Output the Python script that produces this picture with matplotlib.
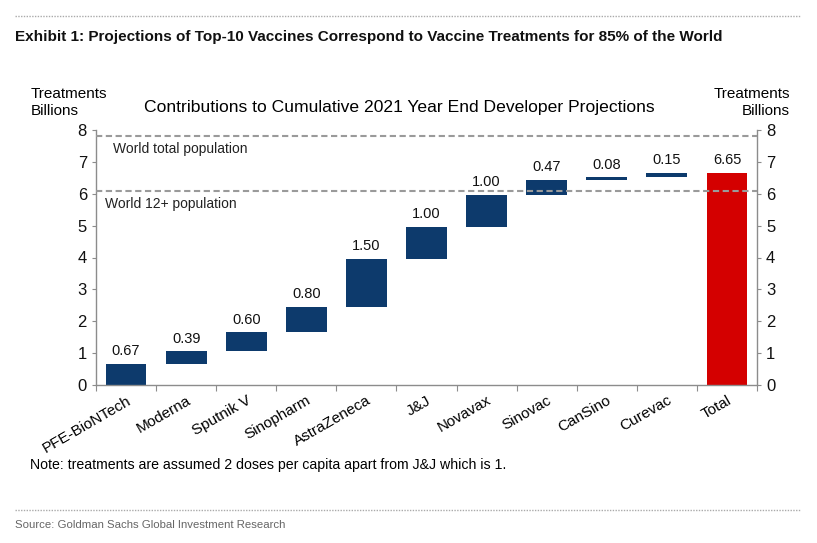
import matplotlib
matplotlib.use("Agg")
import matplotlib.pyplot as plt
import numpy as np

categories = ["PFE-BioNTech", "Moderna", "Sputnik V", "Sinopharm", "AstraZeneca",
              "J&J", "Novavax", "Sinovac", "CanSino", "Curevac", "Total"]
contrib = [0.67, 0.39, 0.60, 0.80, 1.50, 1.00, 1.00, 0.47, 0.08, 0.15]
total = 6.65
labels = ["0.67", "0.39", "0.60", "0.80", "1.50", "1.00", "1.00", "0.47", "0.08", "0.15", "6.65"]
world_total = 7.8
world_12 = 6.08
yticks = [0, 1, 2, 3, 4, 5, 6, 7, 8]

plt.rcParams['font.family'] = ['Liberation Sans', 'DejaVu Sans']

fig = plt.figure(figsize=(8.17, 5.43), dpi=100)
W, H = 817, 543
ax = fig.add_axes([96 / W, 1 - 385 / H, (757 - 96) / W, (385 - 130) / H])

navy = "#0d3a6c"
red = "#d40000"
gray = "#8c8c8c"
dash_gray = "#9a9a9a"

bottoms = np.concatenate([[0], np.cumsum(contrib)[:-1]])
x = np.arange(len(categories))
ax.bar(x[:-1], contrib, bottom=bottoms, width=0.68, color=navy, zorder=2)
ax.bar(x[-1], total, width=0.68, color=red, zorder=2)

tops = list(bottoms + np.array(contrib)) + [total]
for xi, t, lab in zip(x, tops, labels):
    ax.annotate(lab, (xi, t), xytext=(0, 4), textcoords="offset points",
                ha="center", va="bottom", fontsize=10.5, color="#111111")

ax.axhline(world_total, color=dash_gray, ls=(0, (3, 1.7)), lw=1.5, zorder=3)
ax.axhline(world_12, color=dash_gray, ls=(0, (3, 1.7)), lw=1.5, zorder=3)
ax.text(-0.22, world_total - 0.18, "World total population", ha="left", va="top", fontsize=10, color="#222222")
ax.text(-0.35, world_12 - 0.18, "World 12+ population", ha="left", va="top", fontsize=10, color="#222222")

ax.set_xlim(-0.5, len(categories) - 0.5)
ax.set_ylim(0, 8)
ax.set_yticks(yticks)
ax.tick_params(axis='y', which='both', labelsize=12, colors="#111111", length=3, color=gray,
               left=True, right=True, labelleft=True, labelright=True, direction='out')
ax.set_xticks(np.arange(len(categories) + 1) - 0.5, minor=False)
ax.set_xticklabels([])
ax.set_xticks(x, minor=True)
ax.set_xticklabels(categories, minor=True, rotation=30, ha="right", rotation_mode="anchor", fontsize=11)
ax.tick_params(axis='x', which='major', length=4, color=gray, direction='out')
ax.tick_params(axis='x', which='minor', length=0, pad=6)
for s in ["left", "right", "bottom"]:
    ax.spines[s].set_color(gray)
    ax.spines[s].set_linewidth(1.0)
ax.spines["top"].set_visible(False)

# header / footer
fig.add_artist(plt.Line2D([15 / W, 800 / W], [1 - 16 / H, 1 - 16 / H], color="#aaaaaa", lw=1, ls=(0, (1, 1))))
fig.text(15 / W, 1 - 37 / H, "Exhibit 1: Projections of Top-10 Vaccines Correspond to Vaccine Treatments for 85% of the World",
         ha="left", va="center", fontsize=11, fontweight="bold", color="#111111")
fig.text(31 / W, 1 - 102.5 / H, "Treatments\nBillions", ha="left", va="center", fontsize=11, linespacing=1.25)
fig.text(790 / W, 1 - 102.5 / H, "Treatments\nBillions", ha="right", va="center", fontsize=11, linespacing=1.25,
         multialignment="right")
fig.text(399 / W, 1 - 108 / H, "Contributions to Cumulative 2021 Year End Developer Projections",
         ha="center", va="center", fontsize=12.6)
fig.text(30 / W, 1 - 465 / H, "Note: treatments are assumed 2 doses per capita apart from J&J which is 1.",
         ha="left", va="center", fontsize=10.15)
fig.add_artist(plt.Line2D([15 / W, 800 / W], [1 - 510 / H, 1 - 510 / H], color="#aaaaaa", lw=1, ls=(0, (1, 1))))
fig.text(15 / W, 1 - 525 / H, "Source: Goldman Sachs Global Investment Research",
         ha="left", va="center", fontsize=8.2, color="#666666")

fig.savefig("out.png", dpi=100)
